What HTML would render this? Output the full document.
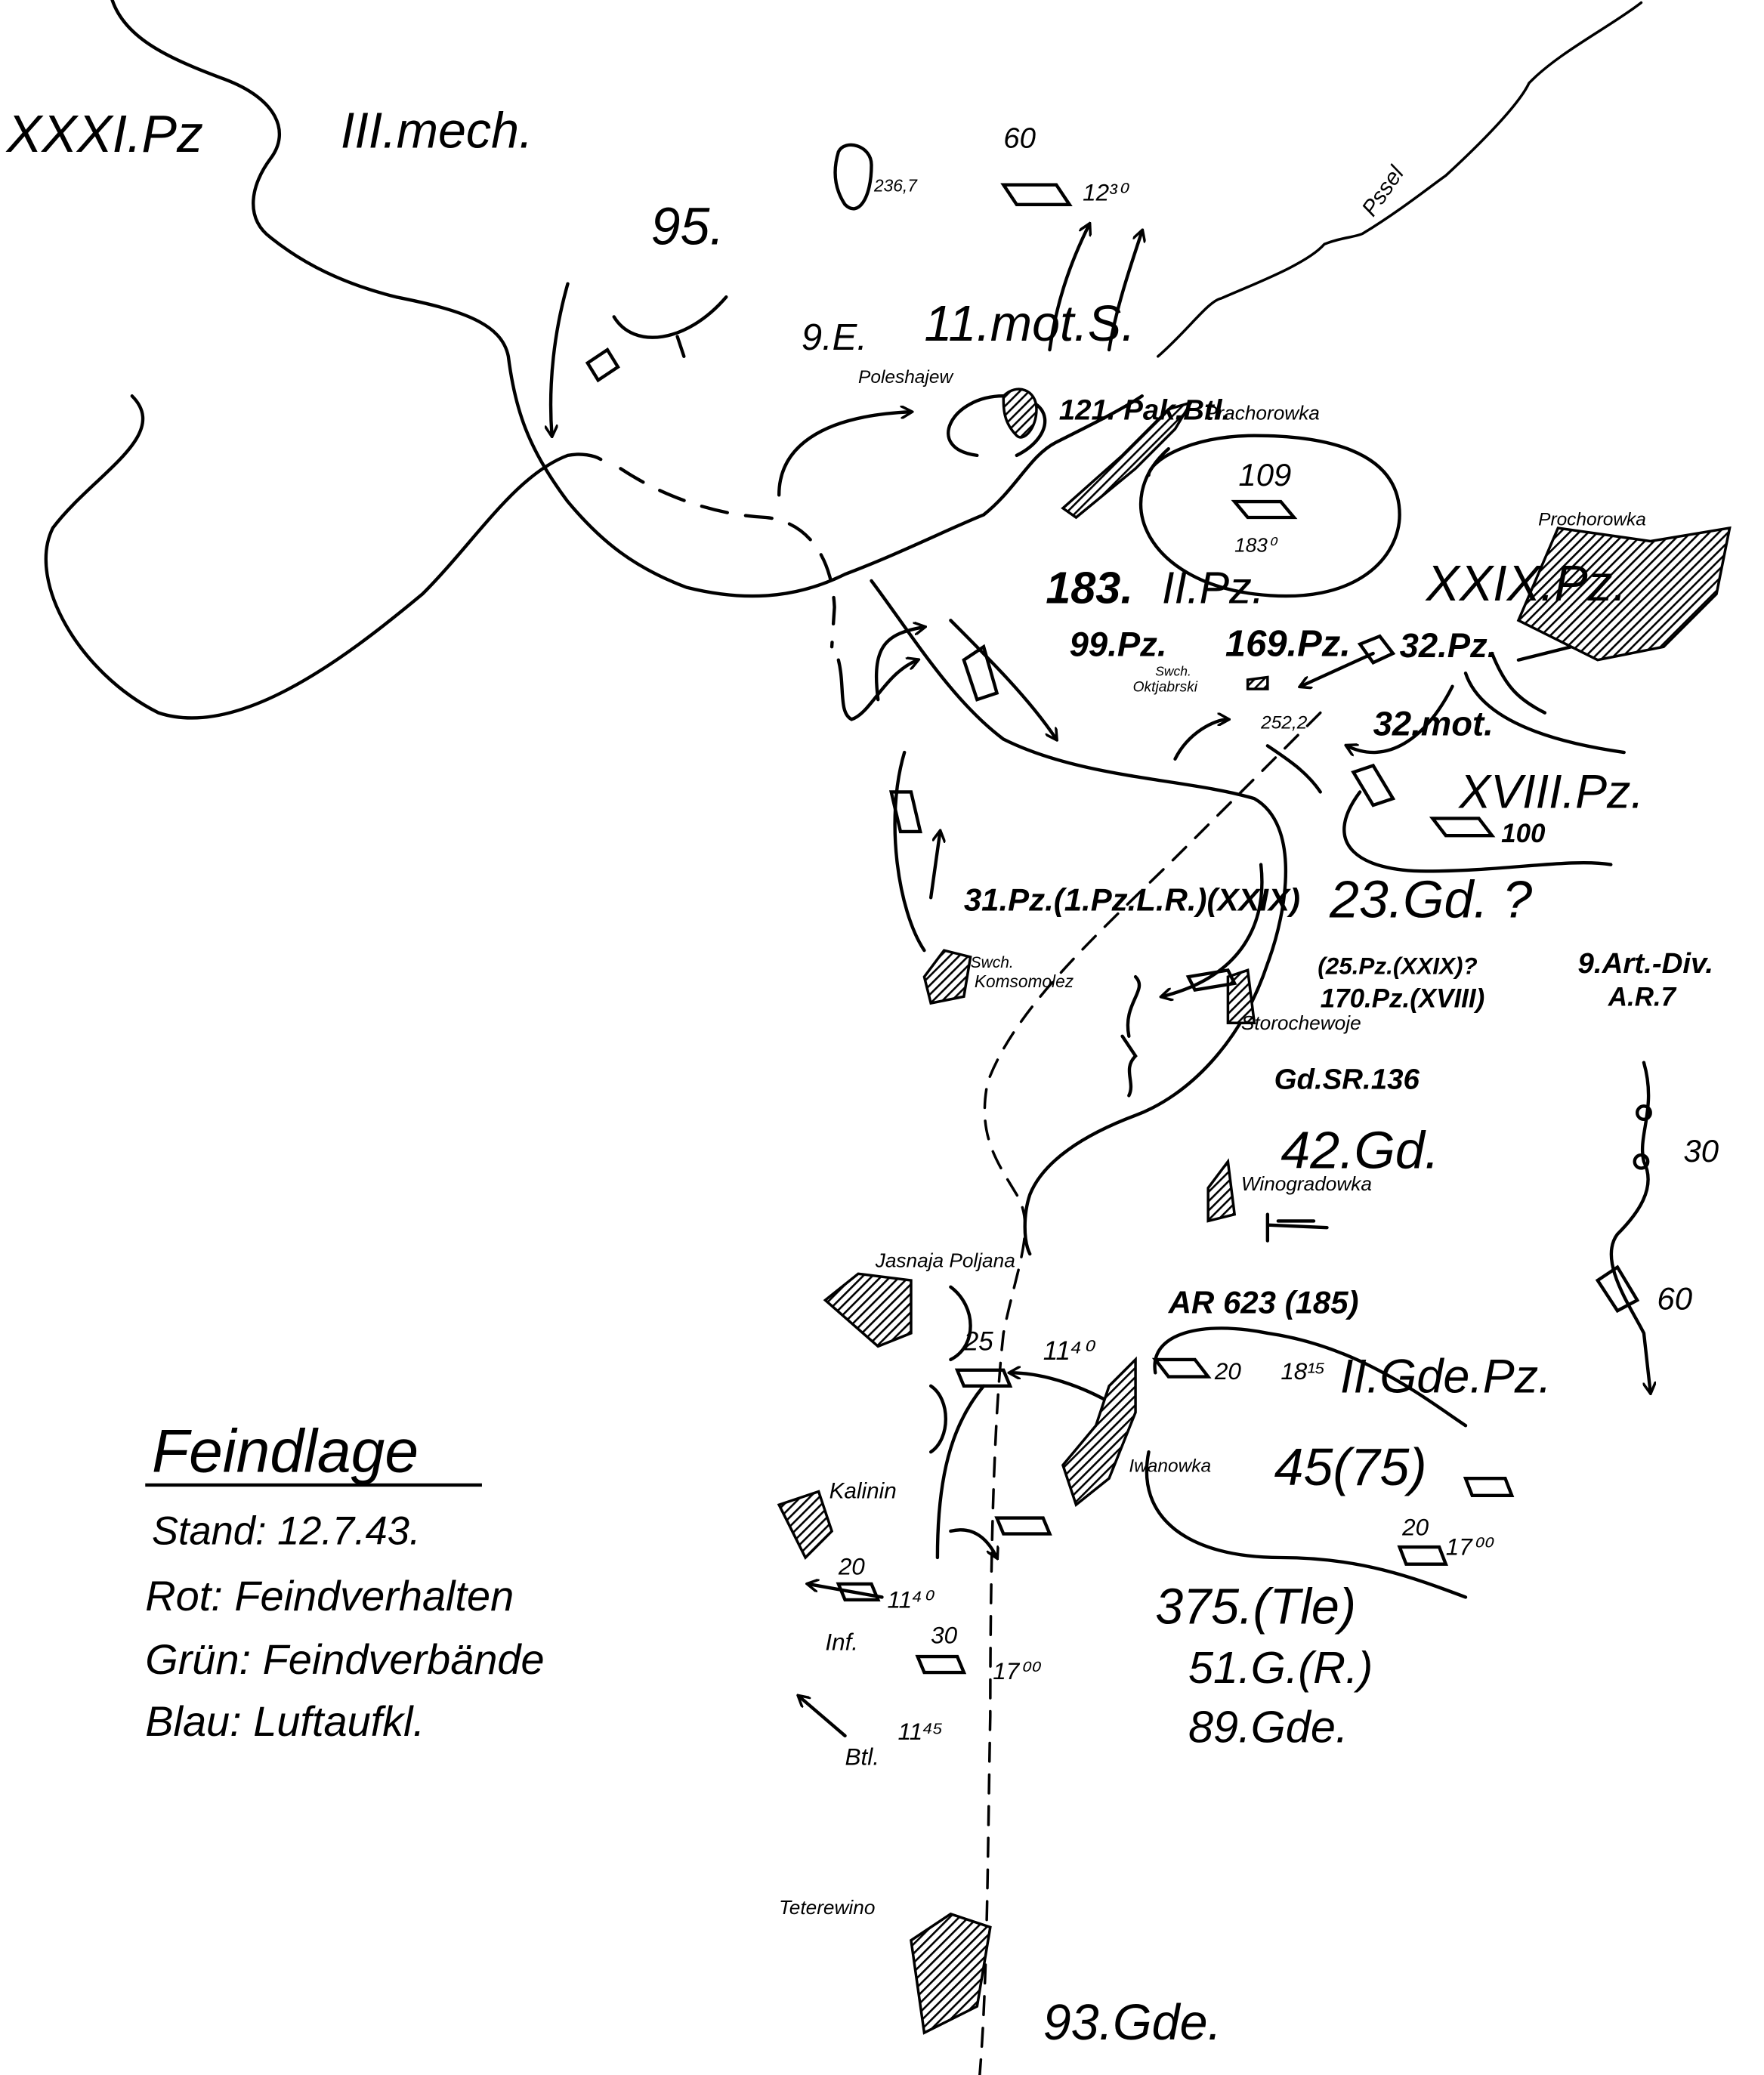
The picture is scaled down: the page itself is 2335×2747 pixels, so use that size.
<!DOCTYPE html>
<html><head><meta charset="utf-8"><style>
html,body{margin:0;padding:0;background:#fff;}
svg{display:block}
text{font-family:"Liberation Sans",sans-serif;font-style:italic;fill:#000}
</style></head><body>
<svg width="2335" height="2747" viewBox="0 0 1336 1572" preserveAspectRatio="none" xmlns="http://www.w3.org/2000/svg">
<defs>
<pattern id="h" width="5" height="5" patternUnits="userSpaceOnUse" patternTransform="rotate(45)"><rect width="5" height="5" fill="#fff"/><line x1="0" y1="0" x2="0" y2="5" stroke="#000" stroke-width="3"/></pattern>
<marker id="a" markerWidth="10" markerHeight="10" refX="8" refY="5" orient="auto" markerUnits="userSpaceOnUse"><path d="M0,0 L9,5 L0,10" fill="none" stroke="#000" stroke-width="2"/></marker>
</defs>
<rect width="1336" height="1572" fill="#fff"/>
<g fill="none" stroke="#000" stroke-width="2.5" stroke-linecap="round">
<!-- river top -->
<path d="M85,0 C95,30 130,45 170,60 C210,75 220,100 205,120 C190,140 185,165 205,180 C230,200 260,215 300,225 C350,235 380,245 385,270 C390,310 400,340 430,380 C455,410 480,430 520,445 C560,455 600,455 640,435 C680,420 720,400 745,390 C770,370 780,345 800,335 C830,320 850,310 865,300"/>
<path d="M877,270 C900,250 915,228 925,226 C950,215 990,200 1003,185 C1015,180 1025,180 1032,177 C1060,160 1085,140 1095,133 C1120,110 1150,80 1158,63 C1180,40 1220,20 1243,2" stroke-width="2"/>
<!-- left loop -->
<path d="M100,300 C130,330 70,360 40,400 C20,440 60,510 120,540 C180,560 260,500 320,450 C360,410 390,360 430,345 C440,343 450,345 455,348"/>
<path d="M470,355 C500,375 540,390 580,392 C610,395 630,420 632,460 L630,490" stroke-dasharray="20,14"/>
<!-- main front -->
<path d="M660,440 C690,480 720,530 760,560 C820,590 900,590 950,605 C985,625 975,690 960,730 C940,790 900,830 860,845 C820,860 790,880 780,905 C775,920 775,940 780,950"/>
<!-- dashed front -->
<path d="M1000,540 L900,640 C840,700 770,760 748,820 C740,860 755,880 770,905 C785,930 770,960 760,1010 C752,1080 750,1200 750,1300 C748,1400 748,1500 742,1572" stroke-dasharray="14,10" stroke-width="2"/>
<!-- arrows -->
<path d="M430,215 C420,250 415,290 418,330" marker-end="url(#a)"/>
<path d="M465,240 C480,265 520,260 550,225"/>
<path d="M513,255 L518,270"/>
<path d="M795,265 C800,230 810,200 825,170" marker-end="url(#a)"/>
<path d="M840,265 C845,235 855,205 865,175" marker-end="url(#a)"/>
<path d="M590,375 C590,340 620,315 690,312" marker-end="url(#a)"/>
<path d="M740,345 C700,340 720,300 760,300 C800,300 800,330 770,345"/>
<path d="M635,500 C640,520 635,540 645,545 C660,540 670,510 695,500" marker-end="url(#a)"/>
<path d="M665,530 C660,490 670,480 700,475" marker-end="url(#a)"/>
<path d="M720,470 C750,500 780,530 800,560" marker-end="url(#a)"/>
<path d="M685,570 C670,620 680,690 700,720"/>
<path d="M705,680 L712,630" marker-end="url(#a)"/>
<path d="M955,655 C960,700 940,740 880,755" marker-end="url(#a)"/>
<path d="M890,575 C900,555 920,545 930,545" marker-end="url(#a)"/>
<path d="M960,565 C975,575 990,585 1000,600"/>
<path d="M1040,495 L985,520" marker-end="url(#a)"/>
<path d="M1100,520 C1080,560 1050,580 1020,565" marker-end="url(#a)"/>
<path d="M1110,510 C1120,540 1160,560 1230,570"/>
<path d="M1130,495 C1140,520 1150,530 1170,540"/>
<path d="M1030,600 C1000,640 1030,660 1080,660 C1140,660 1190,650 1220,655"/>
<path d="M885,340 C840,380 870,440 950,450 C1030,460 1060,420 1060,390 C1060,340 1000,330 950,330 C900,330 870,350 870,360"/>
<path d="M855,785 C850,760 870,750 860,740"/>
<path d="M850,785 L860,800 C850,810 860,820 855,830"/>
<path d="M720,975 C740,990 740,1020 720,1030 M705,1050 C720,1060 720,1090 705,1100"/>
<path d="M1245,805 C1255,840 1240,860 1245,880 C1255,900 1240,920 1225,935 C1210,955 1235,990 1245,1010 L1250,1055" marker-end="url(#a)"/>
<circle cx="1245" cy="843" r="5"/><circle cx="1243" cy="880" r="5"/>
<path d="M875,1040 C870,1010 910,1000 960,1010 C1030,1020 1080,1060 1110,1080"/>
<path d="M870,1100 C860,1150 900,1180 970,1180 C1030,1180 1070,1195 1110,1210"/>
<path d="M845,1065 C820,1050 790,1040 765,1040" marker-end="url(#a)"/>
<path d="M745,1050 C720,1080 710,1120 710,1180 M720,1160 C740,1155 750,1170 755,1180" marker-end="url(#a)"/>
<path d="M668,1210 L612,1200" marker-end="url(#a)"/>
<path d="M640,1315 L605,1285" marker-end="url(#a)"/>
<path d="M960,928 L1005,930 M960,920 L960,940 M968,925 L995,925"/>
<path d="M1190,490 L1150,500"/>
</g>
<!-- hatched areas -->
<g fill="url(#h)" stroke="#000" stroke-width="2">
<path d="M760,300 C770,290 785,295 785,310 C785,325 775,335 770,330 C760,320 760,310 760,300Z"/>
<path d="M805,385 L850,345 L885,310 L902,305 L890,325 L860,355 L815,392 Z"/>
<path d="M1150,470 L1180,400 L1250,410 L1310,400 L1300,450 L1260,490 L1210,500 Z"/>
<path d="M700,740 L715,720 L735,725 L730,755 L705,760 Z"/>
<path d="M930,740 L945,735 L950,775 L930,775 Z"/>
<path d="M915,900 L930,880 L935,920 L915,925 Z"/>
<path d="M625,985 L650,965 L690,970 L690,1010 L665,1020 Z"/>
<path d="M840,1050 L860,1030 L860,1070 L840,1120 L815,1140 L805,1110 L830,1080 Z"/>
<path d="M590,1140 L620,1130 L630,1160 L610,1180 Z"/>
<path d="M690,1470 L720,1450 L750,1460 L740,1520 L700,1540 Z"/>
<path d="M945,515 L960,513 L960,522 L945,522 Z"/>
</g>
<!-- parallelograms -->
<g fill="none" stroke="#000" stroke-width="2.5">
<path d="M760,140 L800,140 L810,155 L770,155Z"/>
<path d="M445,275 L460,265 L468,278 L453,288Z"/>
<path d="M935,380 L970,380 L980,392 L945,392Z"/>
<path d="M1030,488 L1045,482 L1055,495 L1040,502Z"/>
<path d="M1085,620 L1120,620 L1130,633 L1095,633Z"/>
<path d="M730,500 L745,490 L755,525 L740,530Z"/>
<path d="M675,600 L690,600 L697,630 L682,630Z"/>
<path d="M1025,585 L1040,580 L1055,605 L1040,610Z"/>
<path d="M900,740 L930,735 L935,745 L905,750Z"/>
<path d="M875,1030 L905,1030 L915,1043 L885,1043Z"/>
<path d="M1110,1120 L1140,1120 L1145,1133 L1115,1133Z"/>
<path d="M1060,1172 L1090,1172 L1095,1185 L1065,1185Z"/>
<path d="M725,1038 L760,1038 L765,1050 L730,1050Z"/>
<path d="M755,1150 L790,1150 L795,1162 L760,1162Z"/>
<path d="M635,1200 L660,1200 L665,1212 L640,1212Z"/>
<path d="M695,1255 L725,1255 L730,1267 L700,1267Z"/>
<path d="M1210,970 L1225,960 L1240,985 L1225,993Z"/>
<path d="M635,115 C640,105 660,110 660,125 C660,150 650,165 640,155 C630,140 632,125 635,115Z"/>
</g>
<!-- labels -->
<g font-weight="bold">
<text x="5" y="115" font-size="40" font-weight="normal">XXXI.Pz</text>
<text x="258" y="112" font-size="38" font-weight="normal">III.mech.</text>
<text x="493" y="185" font-size="40" font-weight="normal">95.</text>
<text x="760" y="112" font-size="22" font-weight="normal">60</text>
<text x="662" y="145" font-size="13" font-weight="normal">236,7</text>
<text x="820" y="152" font-size="18" font-weight="normal">12³⁰</text>
<text x="1040" y="165" font-size="17" font-weight="normal" transform="rotate(-55 1040 165)">Pssel</text>
<text x="607" y="265" font-size="28" font-weight="normal">9.E.</text>
<text x="700" y="258" font-size="38" font-weight="normal">11.mot.S.</text>
<text x="650" y="290" font-size="14" font-weight="normal">Poleshajew</text>
<text x="802" y="318" font-size="22">121. Pak.Btl.</text>
<text x="912" y="318" font-size="15" font-weight="normal">Prachorowka</text>
<text x="938" y="368" font-size="24" font-weight="normal">109</text>
<text x="935" y="418" font-size="15" font-weight="normal">183⁰</text>
<text x="792" y="457" font-size="34">183.</text>
<text x="880" y="457" font-size="34" font-weight="normal">II.Pz.</text>
<text x="1080" y="455" font-size="38" font-weight="normal">XXIX.Pz.</text>
<text x="1165" y="398" font-size="14" font-weight="normal">Prochorowka</text>
<text x="810" y="497" font-size="26">99.Pz.</text>
<text x="928" y="497" font-size="28">169.Pz.</text>
<text x="1060" y="498" font-size="26">32.Pz.</text>
<text x="875" y="512" font-size="10" font-weight="normal">Swch.</text>
<text x="858" y="524" font-size="11" font-weight="normal">Oktjabrski</text>
<text x="955" y="552" font-size="14" font-weight="normal">252,2</text>
<text x="1040" y="557" font-size="26">32.mot.</text>
<text x="1105" y="612" font-size="36" font-weight="normal">XVIII.Pz.</text>
<text x="1137" y="638" font-size="20">100</text>
<text x="730" y="690" font-size="24">31.Pz.(1.Pz.L.R.)(XXIX)</text>
<text x="1007" y="695" font-size="40" font-weight="normal">23.Gd. ?</text>
<text x="1195" y="737" font-size="22">9.Art.-Div.</text>
<text x="1218" y="762" font-size="20">A.R.7</text>
<text x="998" y="738" font-size="18">(25.Pz.(XXIX)?</text>
<text x="1000" y="763" font-size="20">170.Pz.(XVIII)</text>
<text x="735" y="733" font-size="12" font-weight="normal">Swch.</text>
<text x="738" y="748" font-size="13" font-weight="normal">Komsomolez</text>
<text x="940" y="780" font-size="15" font-weight="normal">Storochewoje</text>
<text x="965" y="825" font-size="22">Gd.SR.136</text>
<text x="970" y="885" font-size="40" font-weight="normal">42.Gd.</text>
<text x="940" y="902" font-size="15" font-weight="normal">Winogradowka</text>
<text x="1275" y="880" font-size="24" font-weight="normal">30</text>
<text x="1255" y="992" font-size="24" font-weight="normal">60</text>
<text x="663" y="960" font-size="15" font-weight="normal">Jasnaja Poljana</text>
<text x="885" y="995" font-size="24">AR 623 (185)</text>
<text x="730" y="1023" font-size="20" font-weight="normal">25</text>
<text x="790" y="1030" font-size="20" font-weight="normal">11⁴⁰</text>
<text x="920" y="1045" font-size="18" font-weight="normal">20</text>
<text x="970" y="1045" font-size="18" font-weight="normal">18¹⁵</text>
<text x="1015" y="1055" font-size="36" font-weight="normal">II.Gde.Pz.</text>
<text x="855" y="1115" font-size="14" font-weight="normal">Iwanowka</text>
<text x="965" y="1125" font-size="40" font-weight="normal">45(75)</text>
<text x="628" y="1135" font-size="17" font-weight="normal">Kalinin</text>
<text x="1062" y="1163" font-size="18" font-weight="normal">20</text>
<text x="1095" y="1178" font-size="18" font-weight="normal">17⁰⁰</text>
<text x="635" y="1193" font-size="18" font-weight="normal">20</text>
<text x="672" y="1218" font-size="18" font-weight="normal">11⁴⁰</text>
<text x="705" y="1245" font-size="18" font-weight="normal">30</text>
<text x="625" y="1250" font-size="18" font-weight="normal">Inf.</text>
<text x="752" y="1272" font-size="18" font-weight="normal">17⁰⁰</text>
<text x="875" y="1230" font-size="38" font-weight="normal">375.(Tle)</text>
<text x="900" y="1275" font-size="34" font-weight="normal">51.G.(R.)</text>
<text x="900" y="1320" font-size="34" font-weight="normal">89.Gde.</text>
<text x="680" y="1318" font-size="18" font-weight="normal">11⁴⁵</text>
<text x="640" y="1337" font-size="18" font-weight="normal">Btl.</text>
<text x="590" y="1450" font-size="15" font-weight="normal">Teterewino</text>
<text x="790" y="1545" font-size="38" font-weight="normal">93.Gde.</text>
<text x="115" y="1115" font-size="46" font-weight="normal">Feindlage</text>
<text x="115" y="1170" font-size="30" font-weight="normal">Stand: 12.7.43.</text>
<text x="110" y="1220" font-size="32" font-weight="normal">Rot: Feindverhalten</text>
<text x="110" y="1268" font-size="32" font-weight="normal">Grün: Feindverbände</text>
<text x="110" y="1315" font-size="32" font-weight="normal">Blau: Luftaufkl.</text>
</g>
<line x1="110" y1="1125" x2="365" y2="1125" stroke="#000" stroke-width="2.5"/>
</svg>
</body></html>
